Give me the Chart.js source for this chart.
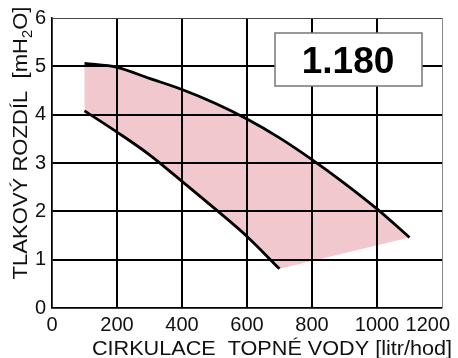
<!DOCTYPE html>
<html>
<head>
<meta charset="utf-8">
<script src="https://cdn.jsdelivr.net/npm/chart.js@4.4.1/dist/chart.umd.min.js"></script>
<style>
  html, body { margin: 0; padding: 0; background: #fff; }
  #wrap { width: 458px; height: 358px; }
</style>
</head>
<body>
<div id="wrap"><canvas id="pump" width="458" height="358"></canvas></div>
<script>
// pump working range: upper curve (max speed) and lower curve (min speed)
const flowUpper = [100, 200, 300, 400, 500, 600, 700, 800, 900, 1000, 1100];
const headUpper = [5.06, 4.98, 4.75, 4.52, 4.24, 3.91, 3.52, 3.07, 2.58, 2.05, 1.46];
const flowLower = [100, 200, 300, 400, 500, 600, 700];
const headLower = [4.08, 3.64, 3.17, 2.62, 2.06, 1.48, 0.81];

const flowTicks = [0, 200, 400, 600, 800, 1000, 1200];
const headTicks = [0, 1, 2, 3, 4, 5, 6];
const modelName = '1.180';

const FONT = '"Liberation Sans", Arial, sans-serif';
const INK = '#111';

const pts = (xs, ys) => xs.map((x, i) => ({ x: x, y: ys[i] }));

// closed outline of the working area (upper curve, then lower curve backwards)
const areaOutline = pts(flowUpper, headUpper).concat(pts(flowLower, headLower).reverse());
areaOutline.push(areaOutline[0]);

const textPlugin = {
    id: 'pumpText',
    afterDraw(chart) {
        const ctx = chart.ctx;
        const xs = chart.scales.x;

        ctx.save();
        ctx.fillStyle = INK;

        // x tick labels, last one kept inside the canvas
        ctx.font = '20px ' + FONT;
        ctx.textBaseline = 'alphabetic';
        ctx.textAlign = 'center';
        flowTicks.forEach(v => {
            const label = String(v);
            const w = ctx.measureText(label).width;
            let px = xs.getPixelForValue(v);
            if (px + w / 2 > chart.width - 8) px = chart.width - 8 - w / 2;
            ctx.fillText(label, px, 331);
        });

        // x axis title
        ctx.save();
        ctx.translate(272, 355);
        ctx.scale(1.03, 1);
        ctx.font = '21px ' + FONT;
        ctx.fillText('CIRKULACE  TOPNÉ VODY [litr/hod]', 0, 0);
        ctx.restore();

        // y axis title with subscript
        ctx.save();
        ctx.translate(27, 143);
        ctx.rotate(-Math.PI / 2);
        ctx.scale(1.05, 1);
        ctx.textAlign = 'left';
        const big = '21px ' + FONT;
        const small = '14px ' + FONT;
        const parts = [
            { t: 'TLAKOVÝ ROZDÍL  [mH', f: big, dy: 0 },
            { t: '2', f: small, dy: 5 },
            { t: 'O]', f: big, dy: 0 }
        ];
        let total = 0;
        parts.forEach(p => { ctx.font = p.f; p.w = ctx.measureText(p.t).width; total += p.w; });
        let cx = -total / 2;
        parts.forEach(p => {
            ctx.font = p.f;
            ctx.fillText(p.t, cx, p.dy);
            cx += p.w;
        });
        ctx.restore();

        // model label box
        ctx.fillStyle = '#fff';
        ctx.fillRect(275, 33, 147, 53);
        ctx.strokeStyle = '#777';
        ctx.lineWidth = 1.5;
        ctx.strokeRect(275, 33, 147, 53);
        ctx.fillStyle = '#000';
        ctx.font = 'bold 37px ' + FONT;
        ctx.textAlign = 'center';
        ctx.textBaseline = 'alphabetic';
        ctx.fillText(modelName, 348, 73);

        ctx.restore();
    }
};

new Chart(document.getElementById('pump'), {
    type: 'line',
    data: {
        datasets: [
            {
                data: pts(flowUpper, headUpper),
                borderColor: '#000',
                borderWidth: 2.8,
                pointRadius: 0,
                fill: false,
                cubicInterpolationMode: 'monotone'
            },
            {
                data: pts(flowLower, headLower),
                borderColor: '#000',
                borderWidth: 2.8,
                pointRadius: 0,
                fill: false,
                cubicInterpolationMode: 'monotone'
            },
            {
                data: areaOutline,
                borderWidth: 0,
                borderColor: 'rgba(0,0,0,0)',
                backgroundColor: '#f0c8ce',
                pointRadius: 0,
                tension: 0,
                fill: 'shape'
            }
        ]
    },
    options: {
        responsive: false,
        animation: false,
        events: [],
        layout: { padding: { top: 18, right: 16, left: 0, bottom: 0 } },
        plugins: {
            legend: { display: false },
            tooltip: { enabled: false },
            filler: { drawTime: 'beforeDraw' }
        },
        scales: {
            x: {
                type: 'linear',
                min: flowTicks[0],
                max: flowTicks[flowTicks.length - 1],
                ticks: { stepSize: 200, display: false },
                grid: {
                    drawTicks: false,
                    color: c => c.tick && c.tick.value === 1200 ? '#888' : '#000',
                    lineWidth: c => {
                        const v = c.tick && c.tick.value;
                        if (v === 1200) return 1;
                        if (v === 0) return 1.5;
                        return 2;
                    }
                },
                border: { display: true, color: '#000', width: 1.5 },
                afterFit: s => { s.height = 50; }
            },
            y: {
                min: headTicks[0],
                max: headTicks[headTicks.length - 1],
                ticks: {
                    stepSize: 0.5,
                    padding: 6,
                    color: INK,
                    font: { family: FONT, size: 20 },
                    callback: v => headTicks.includes(v) ? String(v) : ''
                },
                grid: {
                    drawTicks: false,
                    color: c => c.tick && c.tick.value === 6 ? '#444' : '#000',
                    lineWidth: c => {
                        const v = c.tick && c.tick.value;
                        if (v === 6) return 1;
                        if (v === 0) return 1.5;
                        return 2;
                    }
                },
                border: { display: true, color: '#000', width: 1.5 },
                afterFit: s => { s.width = 52; }
            }
        }
    },
    plugins: [textPlugin]
});
</script>
</body>
</html>
